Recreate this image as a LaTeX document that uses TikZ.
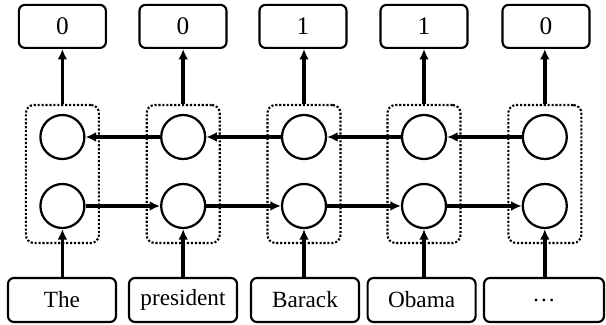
\documentclass[tikz,border=0pt]{standalone}
\usepackage{fontspec}
\setmainfont{Liberation Serif}
\usetikzlibrary{arrows.meta}
\tikzset{
    unit/.style={circle,draw,line width=1.6pt,minimum size=1.1cm,inner sep=0pt},
    cell/.style={draw,dash pattern=on 1.5pt off 1.3pt,line width=1.5pt,rounded corners=0.2cm,minimum width=1.825cm,minimum height=3.45cm},
    label/.style={draw,line width=1.5pt,rounded corners=0.15cm,minimum width=2.175cm,minimum height=1.075cm,font=\fontsize{18}{20}\selectfont},
    word/.style={draw,line width=1.5pt,rounded corners=0.15cm,minimum width=2.7cm,minimum height=1.1cm,font=\fontsize{16.5}{19}\selectfont},
    arr/.style={-{Latex[length=7.5pt,width=7pt]},line width=2.6pt},
}
\begin{document}
\begin{tikzpicture}
    \useasboundingbox (0,0) rectangle (15.15,8.1);
    % cells
    \node[cell] (c1) at (1.56,3.75) {};
    \node[cell] (c2) at (4.58,3.75) {};
    \node[cell] (c3) at (7.6,3.75) {};
    \node[cell] (c4) at (10.6,3.75) {};
    \node[cell] (c5) at (13.62,3.75) {};
    % backward units
    \node[unit] (bw1) at (1.56,4.675) {};
    \node[unit] (bw2) at (4.58,4.675) {};
    \node[unit] (bw3) at (7.6,4.675) {};
    \node[unit] (bw4) at (10.6,4.675) {};
    \node[unit] (bw5) at (13.62,4.675) {};
    % forward units
    \node[unit] (fw1) at (1.56,2.95) {};
    \node[unit] (fw2) at (4.58,2.95) {};
    \node[unit] (fw3) at (7.6,2.95) {};
    \node[unit] (fw4) at (10.6,2.95) {};
    \node[unit] (fw5) at (13.62,2.95) {};
    % outputs
    \node[label] (out1) at (1.56,7.44) {0};
    \node[label] (out2) at (4.575,7.44) {0};
    \node[label] (out3) at (7.575,7.44) {1};
    \node[label] (out4) at (10.6,7.44) {1};
    \node[label] (out5) at (13.65,7.44) {0};
    % inputs
    \node[word] (w1) at (1.55,0.6) {The};
    \node[word] (w2) at (4.575,0.6) {president};
    \node[word] (w3) at (7.625,0.6) {Barack};
    \node[word] (w4) at (10.54,0.6) {Obama};
    \node[word,minimum width=3cm] (w5) at (13.6,0.6) {\ldots};
    \draw[arr] (fw1) -- (fw2);
    \draw[arr] (fw2) -- (fw3);
    \draw[arr] (fw3) -- (fw4);
    \draw[arr] (fw4) -- (fw5);
    \draw[arr] (bw5) -- (bw4);
    \draw[arr] (bw4) -- (bw3);
    \draw[arr] (bw3) -- (bw2);
    \draw[arr] (bw2) -- (bw1);
    \draw[arr] (w1.north -| fw1) -- (fw1);
    \draw[arr] (w2.north -| fw2) -- (fw2);
    \draw[arr] (w3.north -| fw3) -- (fw3);
    \draw[arr] (w4.north -| fw4) -- (fw4);
    \draw[arr] (w5.north -| fw5) -- (fw5);
    \draw[arr] (c1.north) -- (c1.north |- out1.south);
    \draw[arr] (c2.north) -- (c2.north |- out2.south);
    \draw[arr] (c3.north) -- (c3.north |- out3.south);
    \draw[arr] (c4.north) -- (c4.north |- out4.south);
    \draw[arr] (c5.north) -- (c5.north |- out5.south);
\end{tikzpicture}
\end{document}
